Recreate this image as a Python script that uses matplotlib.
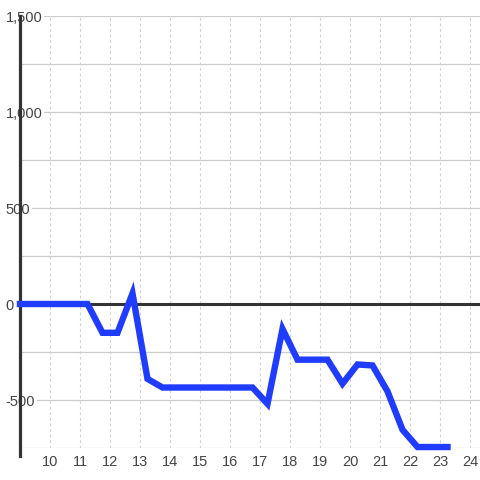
import numpy as np
import matplotlib
matplotlib.use('Agg')
import matplotlib.pyplot as plt

plt.rcParams['font.family'] = ['Liberation Sans', 'DejaVu Sans']

hours = [9.0, 9.25, 9.75, 10.25, 10.75, 11.25, 11.75, 12.25, 12.75, 13.25, 13.75,
         14.25, 14.75, 15.25, 15.75, 16.25, 16.75, 17.25, 17.75, 18.25, 18.75,
         19.25, 19.75, 20.25, 20.75, 21.25, 21.75, 22.25, 22.75, 23.25]
values = [0, 0, 0, 0, 0, 0, -150, -150, 55, -390, -435,
          -435, -435, -435, -435, -435, -435, -520, -130, -290, -290,
          -290, -415, -315, -320, -455, -655, -745, -745, -745]

x_ticks = [10, 11, 12, 13, 14, 15, 16, 17, 18, 19, 20, 21, 22, 23, 24]
y_ticks = [-500, 0, 500, 1000, 1500]
y_labels = ['-500', '0', '500', '1,000', '1,500']
y_grid = [-750, -500, -250, 0, 250, 500, 750, 1000, 1250, 1500]

fig = plt.figure(figsize=(4.8, 4.8), dpi=100)
ax = fig.add_axes([20 / 480, 32 / 480, 460 / 480, 432 / 480])

ax.plot(hours, values, color='#1f3cff', lw=4.6, solid_capstyle='projecting',
        solid_joinstyle='miter', clip_on=False, zorder=4)
ax.axhline(0, color='#333333', lw=2.2, zorder=3)

for g in y_grid:
    ax.axhline(g, color='#cccccc', lw=0.9, zorder=1)
for t in x_ticks:
    ax.axvline(t, color='#d2d2d2', lw=0.8, ls=(0, (2.5, 2.5)), zorder=1)

ax.set_xlim(9.0, 24.333)
ax.set_ylim(-750, 1500)

ax.set_xticks(x_ticks)
ax.set_yticks(y_ticks)
ax.set_yticklabels(y_labels)
ax.tick_params(axis='x', length=0, pad=5, labelsize=10.5, labelcolor='#444444')
ax.tick_params(axis='y', length=0, pad=10.5, labelsize=10.5, labelcolor='#444444')
for lab in ax.get_yticklabels():
    lab.set_horizontalalignment('left')
    lab.set_bbox(dict(facecolor='white', edgecolor='none', pad=1.5))

for s in ['top', 'right', 'bottom']:
    ax.spines[s].set_visible(False)
ax.spines['left'].set_color('#333333')
ax.spines['left'].set_linewidth(2.3)
ax.spines['left'].set_bounds(-790, 1500)

fig.savefig('out.png', dpi=100)
